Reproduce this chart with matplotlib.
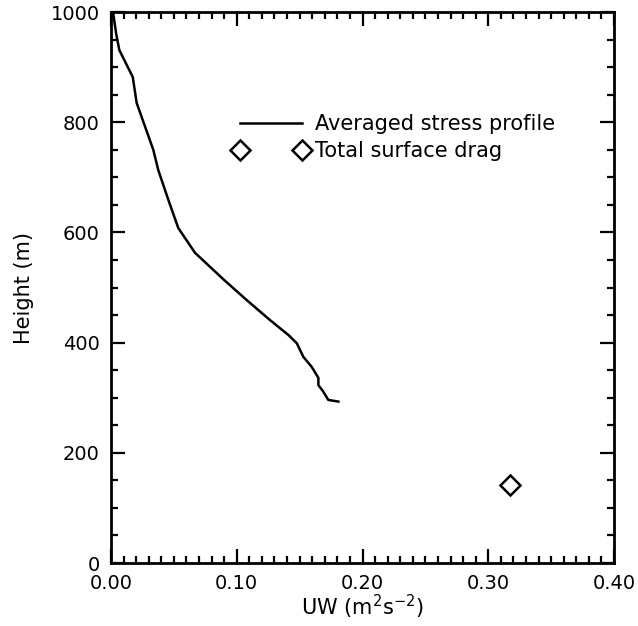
import matplotlib.pyplot as plt
from matplotlib.lines import Line2D
from matplotlib.legend_handler import HandlerLine2D
from matplotlib.ticker import MultipleLocator

# averaged stress profile (uw in m2/s2, height in m)
uw_prof = [0.0016, 0.0040, 0.0066, 0.0173, 0.0204, 0.0336, 0.0376, 0.0456,
           0.0535, 0.0668, 0.0893, 0.1080, 0.1264, 0.1410, 0.1477, 0.1530,
           0.1596, 0.1649, 0.1649, 0.1688, 0.1728, 0.1808]
z_prof = [1000, 962, 931, 882, 835, 750, 713, 659,
          608, 563, 515, 477, 441, 414, 399, 374,
          356, 336, 323, 311, 296, 293]

# total surface drag
uw_drag = [0.317]
z_drag = [141]

plt.rcParams['font.family'] = 'DejaVu Sans'

fig = plt.figure(figsize=(6.38, 6.26), dpi=100)
ax = fig.add_axes([0.174, 0.1006, 0.7884, 0.8802])

ax.plot(uw_prof, z_prof, color='black', lw=1.8)
ax.plot(uw_drag, z_drag, ls='none', marker='D', ms=10, mfc='white',
        mec='black', mew=1.8)

ax.set_xlim(0, 0.40)
ax.set_ylim(0, 1000)
ax.xaxis.set_major_locator(MultipleLocator(0.10))
ax.xaxis.set_minor_locator(MultipleLocator(0.01))
ax.yaxis.set_major_locator(MultipleLocator(200))
ax.yaxis.set_minor_locator(MultipleLocator(50))
ax.xaxis.set_major_formatter(plt.FuncFormatter(lambda v, p: '%.2f' % v))
ax.tick_params(which='both', direction='in', top=True, right=True,
               labelsize=14, width=1.6)
ax.tick_params(which='major', length=10, pad=8)
ax.tick_params(which='minor', length=5)
for sp in ax.spines.values():
    sp.set_linewidth(2)

ax.set_xlabel('UW (m$^2$s$^{-2}$)', fontsize=15, labelpad=0)
ax.set_ylabel('Height (m)', fontsize=15, labelpad=12)

h_line = Line2D([], [], color='black', lw=1.8)
h_mark = Line2D([], [], ls='none', marker='D', ms=10, mfc='white',
                mec='black', mew=1.8)
ax.legend([h_line, h_mark], ['Averaged stress profile', 'Total surface drag'],
          loc='upper left', bbox_to_anchor=(0.256, 0.815), frameon=False,
          borderpad=0, borderaxespad=0, handlelength=3.0, handletextpad=0.6,
          labelspacing=0.35, fontsize=15,
          handler_map={h_mark: HandlerLine2D(numpoints=2, marker_pad=0)})

fig.savefig('out.png', dpi=100)
